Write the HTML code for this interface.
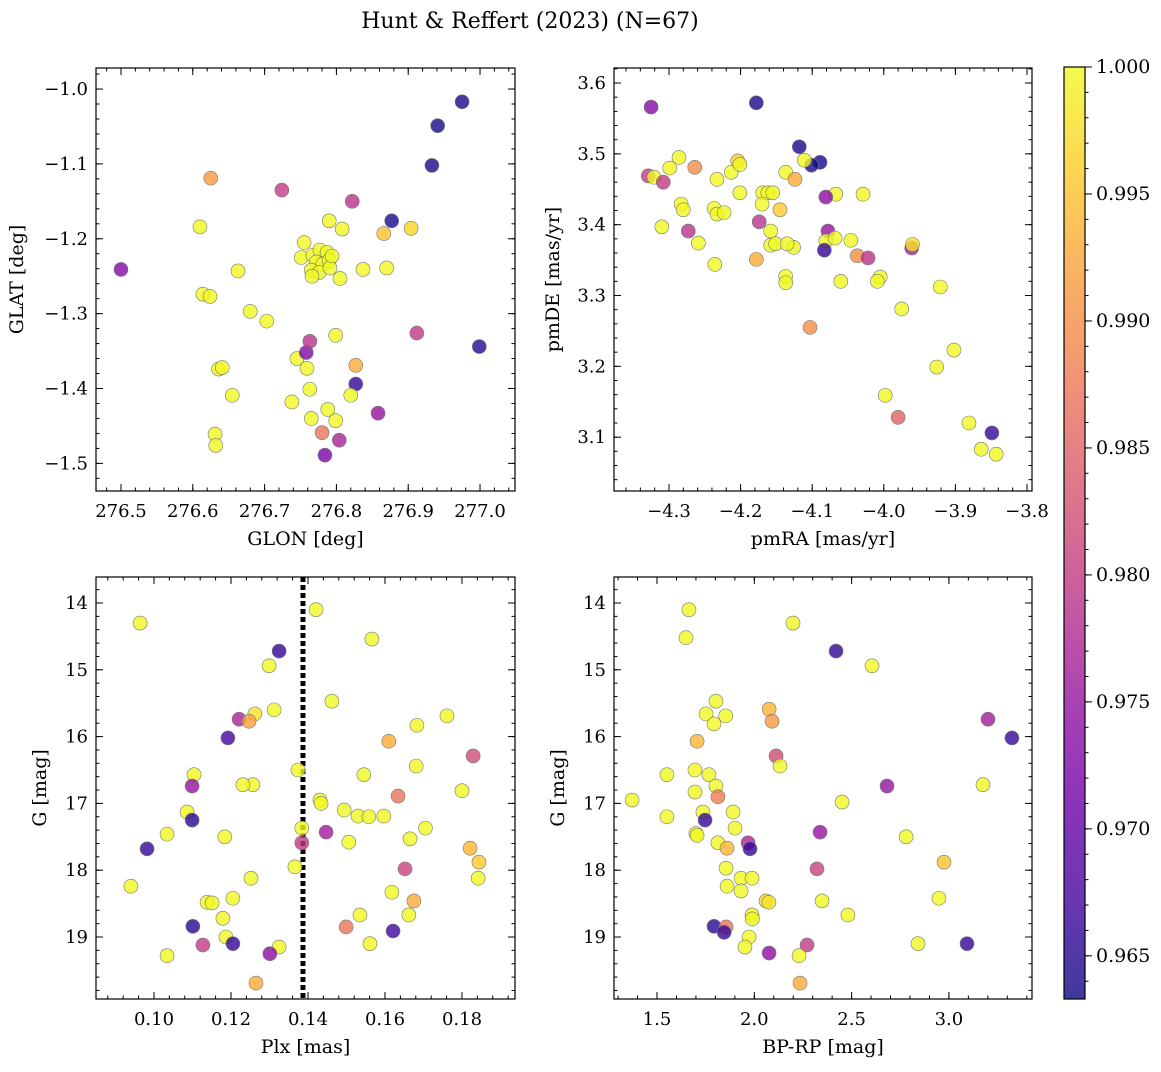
<!DOCTYPE html>
<html><head><meta charset="utf-8"><style>
body{margin:0;background:#fff;}
svg text{font-family:"DejaVu Serif","Liberation Serif",serif;fill:#000;}
</style></head><body>
<svg id="chart" width="1161" height="1067" xmlns="http://www.w3.org/2000/svg">
<defs><linearGradient id="cbgrad" x1="0" y1="1" x2="0" y2="0"></linearGradient></defs>
<text x="530" y="28" font-size="22" text-anchor="middle">Hunt &amp; Reffert (2023) (N=67)</text>
</svg>
<script>
// ---- data: [x, y, membership probability] per panel ----
const p1Data = [[276.500,-1.241,.973],[276.625,-1.119,.991],[276.610,-1.184,1],[276.614,-1.274,1],[276.624,-1.277,1],[276.663,-1.243,1],[276.680,-1.297,1],[276.703,-1.310,1],[276.636,-1.374,1],[276.641,-1.372,1],[276.655,-1.409,1],[276.631,-1.461,1],[276.632,-1.476,1],[276.724,-1.135,.980],[276.822,-1.150,.979],[276.790,-1.176,1],[276.808,-1.187,1],[276.755,-1.205,1],[276.751,-1.225,1],[276.767,-1.222,1],[276.777,-1.215,1],[276.787,-1.218,1],[276.772,-1.231,1],[276.781,-1.234,1],[276.790,-1.229,1],[276.765,-1.242,1],[276.776,-1.245,1],[276.791,-1.239,1],[276.766,-1.250,1],[276.794,-1.223,1],[276.805,-1.253,1],[276.837,-1.241,1],[276.870,-1.239,1],[276.866,-1.193,.995],[276.904,-1.186,.997],[276.877,-1.176,.964],[276.933,-1.102,.964],[276.941,-1.049,.964],[276.975,-1.017,.964],[276.999,-1.344,.965],[276.912,-1.326,.980],[276.799,-1.329,1],[276.745,-1.360,1],[276.758,-1.352,.973],[276.763,-1.337,.979],[276.759,-1.373,1],[276.827,-1.369,.993],[276.827,-1.394,.966],[276.763,-1.401,1],[276.738,-1.418,1],[276.820,-1.409,1],[276.788,-1.428,1],[276.799,-1.443,1],[276.765,-1.440,1],[276.780,-1.459,.987],[276.804,-1.469,.977],[276.784,-1.489,.972],[276.858,-1.433,.975]];
const p2Data = [[-4.325,3.566,.973],[-4.178,3.572,.964],[-4.118,3.510,.964],[-4.089,3.488,.964],[-4.101,3.484,.964],[-4.329,3.469,.980],[-4.321,3.467,1],[-4.308,3.460,.980],[-4.299,3.480,1],[-4.286,3.495,1],[-4.264,3.481,.990],[-4.233,3.464,1],[-4.213,3.474,1],[-4.204,3.490,.996],[-4.201,3.485,1],[-4.201,3.445,1],[-4.169,3.445,1],[-4.162,3.445,1],[-4.155,3.445,1],[-4.137,3.474,1],[-4.124,3.464,.993],[-4.111,3.491,1],[-4.170,3.429,1],[-4.145,3.421,.996],[-4.067,3.443,1],[-4.029,3.443,1],[-4.081,3.439,.974],[-4.283,3.429,1],[-4.280,3.421,1],[-4.237,3.423,1],[-4.233,3.415,1],[-4.223,3.417,1],[-4.310,3.397,1],[-4.273,3.391,.979],[-4.259,3.374,1],[-4.174,3.404,.979],[-4.158,3.391,1],[-4.126,3.368,1],[-4.158,3.371,1],[-4.151,3.373,1],[-4.135,3.373,1],[-4.078,3.391,.975],[-4.081,3.377,1],[-4.068,3.381,1],[-4.083,3.364,.966],[-4.046,3.378,1],[-3.961,3.367,.976],[-3.960,3.372,.998],[-4.037,3.356,.990],[-4.022,3.353,.979],[-4.005,3.326,1],[-4.009,3.320,1],[-4.236,3.344,1],[-4.178,3.351,.993],[-4.060,3.320,1],[-4.137,3.327,1],[-4.137,3.318,1],[-3.921,3.312,1],[-3.975,3.281,1],[-4.103,3.255,.990],[-3.998,3.159,1],[-3.980,3.128,.985],[-3.926,3.199,1],[-3.902,3.223,1],[-3.881,3.120,1],[-3.849,3.106,.966],[-3.864,3.083,1],[-3.843,3.076,1]];
const p3Data = [[0.0964,14.30,1],[0.1421,14.10,1],[0.1325,14.72,.966],[0.1299,14.94,1],[0.1566,14.54,1],[0.1462,15.47,1],[0.1312,15.60,1],[0.1262,15.66,.998],[0.1221,15.74,.977],[0.1247,15.77,.992],[0.1192,16.02,.967],[0.1761,15.69,1],[0.1683,15.83,1],[0.1610,16.07,.993],[0.1829,16.29,.982],[0.1681,16.44,1],[0.1104,16.57,1],[0.1099,16.74,.975],[0.1374,16.50,1],[0.1545,16.57,1],[0.1257,16.72,1],[0.1231,16.72,1],[0.1800,16.81,1],[0.1431,16.95,1],[0.1434,17.00,1],[0.1634,16.89,.987],[0.1086,17.13,1],[0.1494,17.10,1],[0.1530,17.19,1],[0.1558,17.20,1],[0.1597,17.19,1],[0.1099,17.25,.965],[0.1705,17.37,1],[0.1384,17.37,1],[0.1034,17.46,1],[0.1447,17.43,.976],[0.1665,17.53,1],[0.1506,17.58,1],[0.1184,17.50,1],[0.0982,17.68,.966],[0.1821,17.67,.994],[0.1384,17.59,.980],[0.1844,17.88,.996],[0.1366,17.95,1],[0.1652,17.98,.981],[0.1252,18.12,1],[0.1842,18.12,1],[0.0940,18.24,1],[0.1618,18.33,1],[0.1205,18.42,1],[0.1138,18.48,1],[0.1151,18.49,1],[0.1675,18.46,.993],[0.1535,18.67,1],[0.1662,18.67,1],[0.1179,18.72,1],[0.1499,18.85,.987],[0.1101,18.84,.965],[0.1621,18.91,.967],[0.1187,19.00,1],[0.1205,19.10,.966],[0.1127,19.12,.980],[0.1561,19.10,1],[0.1325,19.15,1],[0.1301,19.25,.974],[0.1034,19.28,1],[0.1265,19.69,.993]];
const p4Data = [[1.664,14.10,1],[2.199,14.30,1],[1.649,14.52,1],[2.420,14.72,.966],[2.605,14.94,1],[1.803,15.47,1],[2.076,15.59,.994],[1.752,15.66,1],[1.853,15.69,1],[1.793,15.81,1],[2.091,15.77,.991],[3.201,15.74,.976],[3.324,16.02,.966],[1.706,16.07,.994],[2.112,16.29,.982],[2.132,16.44,1],[1.695,16.50,1],[1.551,16.57,1],[1.767,16.57,1],[1.803,16.74,1],[2.682,16.74,.975],[3.175,16.72,1],[1.695,16.83,1],[1.813,16.90,.988],[1.372,16.95,1],[2.451,16.98,1],[1.736,17.13,1],[1.891,17.13,1],[1.551,17.20,1],[1.747,17.25,.966],[1.901,17.37,1],[2.338,17.43,.975],[1.700,17.45,1],[1.706,17.48,1],[2.780,17.50,1],[1.813,17.59,1],[1.968,17.59,.977],[1.978,17.68,.966],[1.860,17.67,.994],[2.975,17.88,.995],[1.855,17.97,1],[2.322,17.98,.981],[1.932,18.12,1],[1.988,18.12,1],[1.860,18.24,1],[1.932,18.31,1],[2.949,18.42,1],[2.060,18.46,.997],[2.075,18.48,.998],[2.348,18.46,1],[2.481,18.67,1],[1.988,18.67,1],[1.990,18.73,1],[1.793,18.84,.965],[1.855,18.85,.987],[1.845,18.93,.966],[1.973,19.00,1],[1.952,19.15,1],[2.841,19.10,1],[3.093,19.10,.966],[2.271,19.12,.980],[2.076,19.24,.974],[2.230,19.28,1],[2.235,19.69,.993]];
const p1XTicks = [276.5,276.6,276.7,276.8,276.9,277.0];
const p1YTicks = [-1.0,-1.1,-1.2,-1.3,-1.4,-1.5];
const p2XTicks = [-4.3,-4.2,-4.1,-4.0,-3.9,-3.8];
const p2YTicks = [3.1,3.2,3.3,3.4,3.5,3.6];
const p3XTicks = [0.10,0.12,0.14,0.16,0.18];
const gTicks = [14,15,16,17,18,19];
const p4XTicks = [1.5,2.0,2.5,3.0];
const cbTicks = [0.965,0.970,0.975,0.980,0.985,0.990,0.995,1.000];
const plxCut = 0.1387;
const probMin = 0.9633, probMax = 1.0;

const NS = "http://www.w3.org/2000/svg";
const svg = document.getElementById('chart');
const TICK_FS = 18, LAB_FS = 19, CB_FS = 19;
function mk(tag, attrs, parent){ const e=document.createElementNS(NS,tag); for(const k in attrs) e.setAttribute(k,attrs[k]); (parent||svg).appendChild(e); return e; }
const plasma=[[13,8,135],[65,4,157],[106,0,168],[143,13,164],[177,42,144],[204,71,120],[225,100,98],[242,132,75],[252,166,54],[252,206,37],[240,249,33]];
function cmap(t){ t=Math.max(0,Math.min(1,t)); const f=t*(plasma.length-1); const i=Math.min(plasma.length-2,Math.floor(f)); const u=f-i; const a=plasma[i],b=plasma[i+1]; return 'rgb('+a.map((v,k)=>Math.round(v+(b[k]-v)*u)).join(',')+')'; }
const grad=document.getElementById('cbgrad');
for(let i=0;i<=20;i++){ mk('stop',{offset:(i/20),'stop-color':cmap(i/20)},grad); }
function fmt(v,d){ return v.toFixed(d).replace('-','\u2212'); }

function panel(o){
  const g=mk('g',{});
  
  
  const sx=v=>o.x0+(v-o.xd[0])/(o.xd[1]-o.xd[0])*(o.x1-o.x0);
  const sy=o.inv ? (v=>o.y0+(v-o.yd[0])/(o.yd[1]-o.yd[0])*(o.y1-o.y0))
                 : (v=>o.y1-(v-o.yd[0])/(o.yd[1]-o.yd[0])*(o.y1-o.y0));
  if(o.cut!==undefined){
    const l=mk('line',{x1:sx(o.cut),x2:sx(o.cut),y1:o.y0,y2:o.y1,stroke:'#000','stroke-width':5,'stroke-dasharray':'5,3'},g);
    
    
  }
  o.data.forEach(d=>{
    const c=mk('circle',{cx:sx(d[0]),cy:sy(d[1]),r:7,fill:cmap((d[2]-probMin)/(probMax-probMin)),'fill-opacity':0.8,stroke:'#777','stroke-width':0.6},g);
    
    
  });
  const fr=mk('rect',{x:o.x0,y:o.y0,width:o.x1-o.x0,height:o.y1-o.y0,fill:'none',stroke:'#000','stroke-width':1.2},g);
  
  
  const xm=o.xs/5, ym=o.ys/5;
  for(let k=Math.ceil(o.xd[0]/xm-1e-6); k*xm<=o.xd[1]; k++){ const X=sx(k*xm); mk('line',{x1:X,x2:X,y1:o.y1,y2:o.y1-3.5,stroke:'#000'},g); mk('line',{x1:X,x2:X,y1:o.y0,y2:o.y0+3.5,stroke:'#000'},g); }
  for(let k=Math.ceil(o.yd[0]/ym-1e-6); k*ym<=o.yd[1]; k++){ const Y=sy(k*ym); mk('line',{x1:o.x0,x2:o.x0+3.5,y1:Y,y2:Y,stroke:'#000'},g); mk('line',{x1:o.x1,x2:o.x1-3.5,y1:Y,y2:Y,stroke:'#000'},g); }
  o.xt.forEach(v=>{ const X=sx(v); mk('line',{x1:X,x2:X,y1:o.y1,y2:o.y1-7,stroke:'#000'},g); mk('line',{x1:X,x2:X,y1:o.y0,y2:o.y0+7,stroke:'#000'},g);
    const t=mk('text',{x:X,y:o.y1+26,'font-size':TICK_FS,'text-anchor':'middle'},g); t.textContent=fmt(v,o.xdp);
    
     });
  o.yt.forEach(v=>{ const Y=sy(v); mk('line',{x1:o.x0,x2:o.x0+7,y1:Y,y2:Y,stroke:'#000'},g); mk('line',{x1:o.x1,x2:o.x1-7,y1:Y,y2:Y,stroke:'#000'},g);
    const t=mk('text',{x:o.x0-8,y:Y+6,'font-size':TICK_FS,'text-anchor':'end'},g); t.textContent=fmt(v,o.ydp);
    
     });
  const xl=mk('text',{x:(o.x0+o.x1)/2,y:o.y1+54,'font-size':LAB_FS,'text-anchor':'middle'},g); xl.textContent=o.xlab;
  
  
  const yx=o.ylx, yy=(o.y0+o.y1)/2;
  const yl=mk('text',{x:yx,y:yy,'font-size':LAB_FS,'text-anchor':'middle',transform:'rotate(-90 '+yx+' '+yy+')'},g); yl.textContent=o.ylab;
  
  
}
panel({name:'glon-glat-panel',data:p1Data,x0:96,x1:515,y0:68,y1:491,xd:[276.4652,277.0487],yd:[-1.5369,-0.9719],xs:0.1,ys:0.1,xt:p1XTicks,yt:p1YTicks,xdp:1,ydp:1,xlab:'GLON [deg]',ylab:'GLAT [deg]',ylx:23});
panel({name:'proper-motion-panel',data:p2Data,x0:614,x1:1032,y0:68,y1:491,xd:[-4.3768,-3.7930],yd:[3.0240,3.6212],xs:0.1,ys:0.1,xt:p2XTicks,yt:p2YTicks,xdp:1,ydp:1,xlab:'pmRA [mas/yr]',ylab:'pmDE [mas/yr]',ylx:559});
panel({name:'plx-g-panel',data:p3Data,x0:96,x1:515,y0:577,y1:999,xd:[0.08494,0.19377],yd:[13.611,19.928],inv:true,xs:0.02,ys:1,xt:p3XTicks,yt:gTicks,xdp:2,ydp:0,xlab:'Plx [mas]',ylab:'G [mag]',ylx:46,cut:plxCut});
panel({name:'color-magnitude-panel',data:p4Data,x0:614,x1:1032,y0:577,y1:999,xd:[1.2790,3.4270],yd:[13.611,19.928],inv:true,xs:0.5,ys:1,xt:p4XTicks,yt:gTicks,xdp:1,ydp:0,xlab:'BP-RP [mag]',ylab:'G [mag]',ylx:564});

(function(){
  const cx0=1064,cx1=1085,cy0=67,cy1=999;
  const g=mk('g',{});
  
  
  const sy=v=>cy1-(v-probMin)/(probMax-probMin)*(cy1-cy0);
  mk('rect',{x:cx0,y:cy0,width:cx1-cx0,height:cy1-cy0,fill:'url(#cbgrad)','fill-opacity':0.8,stroke:'#000','stroke-width':1.2},g);
  for(let k=964;k<=1000;k++){const Y=sy(k/1000);mk('line',{x1:cx1,x2:cx1+3.5,y1:Y,y2:Y,stroke:'#000'},g);}
  cbTicks.forEach(v=>{const Y=sy(v);mk('line',{x1:cx1,x2:cx1+7,y1:Y,y2:Y,stroke:'#000'},g);
    const t=mk('text',{x:cx1+11,y:Y+6,'font-size':CB_FS},g); t.textContent=v.toFixed(3);
    
    });
})();
</script>
</body></html>
